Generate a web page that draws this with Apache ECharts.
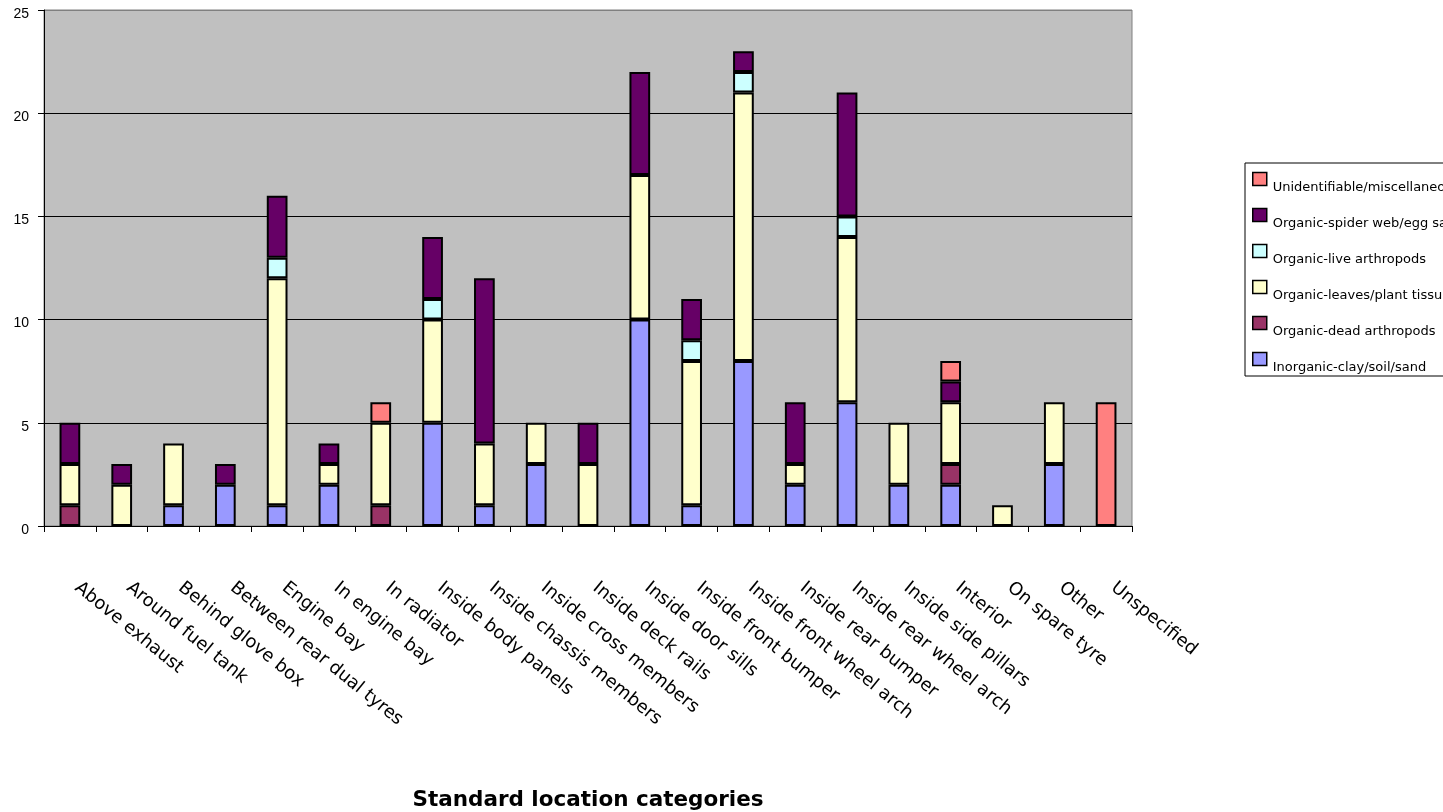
<!DOCTYPE html>
<html>
<head>
<meta charset="utf-8">
<script src="https://cdn.jsdelivr.net/npm/echarts@6/dist/echarts.min.js"></script>
<style>
  html, body { margin: 0; padding: 0; background: #fff; }
  #chart { width: 1443px; height: 812px; }
</style>
</head>
<body>
<div id="chart"></div>
<script>
// Location categories along the x axis
const categories = [
  'Above exhaust', 'Around fuel tank', 'Behind glove box', 'Between rear dual tyres',
  'Engine bay', 'In engine bay', 'In radiator', 'Inside body panels',
  'Inside chassis members', 'Inside cross members', 'Inside deck rails',
  'Inside door sills', 'Inside front bumper', 'Inside front wheel arch',
  'Inside rear bumper', 'Inside rear wheel arch', 'Inside side pillars',
  'Interior', 'On spare tyre', 'Other', 'Unspecified'
];

// Counts per contaminant type, stacked bottom to top
const inorganic   = [0, 0, 1, 2, 1, 2, 0, 5, 1, 3, 0, 10, 1, 8, 2, 6, 2, 2, 0, 3, 0];
const deadArthro  = [1, 0, 0, 0, 0, 0, 1, 0, 0, 0, 0, 0, 0, 0, 0, 0, 0, 1, 0, 0, 0];
const leaves      = [2, 2, 3, 0, 11, 1, 4, 5, 3, 2, 3, 7, 7, 13, 1, 8, 3, 3, 1, 3, 0];
const liveArthro  = [0, 0, 0, 0, 1, 0, 0, 1, 0, 0, 0, 0, 1, 1, 0, 1, 0, 0, 0, 0, 0];
const spiderWeb   = [2, 1, 0, 1, 3, 1, 0, 3, 8, 0, 2, 5, 2, 1, 3, 6, 0, 1, 0, 0, 0];
const unidentified= [0, 0, 0, 0, 0, 0, 1, 0, 0, 0, 0, 0, 0, 0, 0, 0, 0, 1, 0, 0, 6];

const yTicks = { min: 0, max: 25, interval: 5 };

const seriesDefs = [
  { name: 'Inorganic-clay/soil/sand',      data: inorganic,    color: '#9999FF' },
  { name: 'Organic-dead arthropods',       data: deadArthro,   color: '#993366' },
  { name: 'Organic-leaves/plant tissue',   data: leaves,       color: '#FFFFCC' },
  { name: 'Organic-live arthropods',       data: liveArthro,   color: '#CCFFFF' },
  { name: 'Organic-spider web/egg sacs',   data: spiderWeb,    color: '#660066' },
  { name: 'Unidentifiable/miscellaneous',  data: unidentified, color: '#FF8080' }
];

const chart = echarts.init(document.getElementById('chart'), null, { renderer: 'canvas' });

chart.setOption({
  animation: false,
  backgroundColor: '#ffffff',
  textStyle: { fontFamily: 'Liberation Sans, Arial, sans-serif' },
  grid: {
    left: 44, right: 311, top: 10, bottom: 286,
    outerBoundsMode: 'none',
    containLabel: false,
    show: true, backgroundColor: '#C0C0C0', borderColor: '#808080', borderWidth: 1
  },
  legend: {
    orient: 'vertical',
    left: 1245, top: 163,
    padding: [1, 12, 2, 7],
    borderColor: '#000', borderWidth: 1,
    itemWidth: 14, itemHeight: 13, itemGap: 6,
    icon: 'rect',
    itemStyle: { borderColor: '#000', borderWidth: 1.5 },
    formatter: '{t|{name}}',
    textStyle: {
      color: '#000',
      rich: { t: { fontSize: 13, fontFamily: 'DejaVu Sans, sans-serif', color: '#000', padding: [17, 0, 0, 1], lineHeight: 15 } }
    },
    data: seriesDefs.map(s => s.name).reverse()
  },
  xAxis: {
    type: 'category',
    data: categories,
    boundaryGap: true,
    axisLine: { lineStyle: { color: '#000', width: 1 } },
    axisTick: { show: true, inside: false, length: 6, alignWithLabel: false, lineStyle: { color: '#000' } },
    axisLabel: {
      interval: 0, rotate: -39, margin: 54,
      formatter: '{c|{value}}',
      rich: { c: { fontSize: 18, color: '#000', fontFamily: 'DejaVu Sans, sans-serif', padding: [0, 0, 0, 9] } }
    },
    name: 'Standard location categories',
    nameLocation: 'middle',
    nameGap: 263,
    nameTextStyle: { fontSize: 21.5, fontWeight: 'bold', color: '#000', fontFamily: 'DejaVu Sans, sans-serif' }
  },
  yAxis: {
    type: 'value',
    min: yTicks.min, max: yTicks.max, interval: yTicks.interval,
    axisLine: { show: true, lineStyle: { color: '#000', width: 1 } },
    axisTick: { show: true, inside: false, length: 6, lineStyle: { color: '#000' } },
    axisLabel: {
      margin: 15,
      formatter: '{v|{value}}',
      rich: { v: { fontSize: 14, color: '#000', padding: [8, 0, 0, 0] } }
    },
    splitLine: { show: true, lineStyle: { color: ['#000', '#000', '#000', '#000', '#000', '#808080'], width: 1 } }
  },
  series: seriesDefs.map(s => ({
    name: s.name,
    type: 'bar',
    stack: 'total',
    barWidth: '40%',
    data: s.data.map(v => v === 0 ? null : v),
    itemStyle: { color: s.color, borderColor: '#000', borderWidth: 2 }
  }))
});
</script>
</body>
</html>
